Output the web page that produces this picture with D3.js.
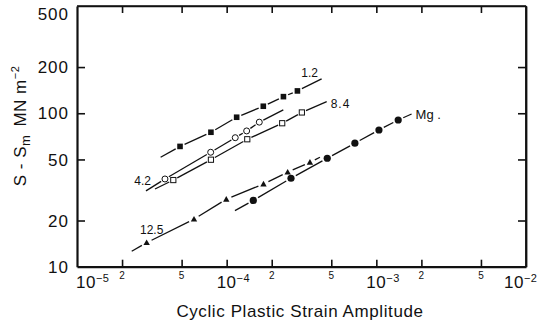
<!DOCTYPE html>
<html><head><meta charset="utf-8">
<script src="https://cdn.jsdelivr.net/npm/d3@7"></script>
<style>
html,body{margin:0;padding:0;background:#fff;}
svg{display:block;}
text{font-family:"Liberation Sans",Arial,sans-serif;fill:#111;}
</style></head>
<body>
<svg id="chart" width="544" height="323"></svg>
<script>
// ---- data ----
const xTickMajor = [1e-5, 1e-4, 1e-3, 1e-2];
const xTickMajorExp = ["-5", "-4", "-3", "-2"];
const xTickMinor = [2e-5, 5e-5, 2e-4, 5e-4, 2e-3, 5e-3];
const xTickMinorLabels = ["2", "5", "2", "5", "2", "5"];
const yTicks = [10, 20, 50, 100, 200, 500];
const yTickLabels = ["10", "20", "50", "100", "200", "500"];

// series: strain amplitude (x) and S - Sm (y)
const s12x = [4.88e-5, 7.85e-5, 1.166e-4, 1.757e-4, 2.395e-4, 2.97e-4];
const s12y = [60.8, 75.2, 94.2, 111.1, 128.3, 139.8];
const s12line = [[3.62e-5, 51.7], [4.31e-4, 167.4]];

const s42x = [3.87e-5, 7.82e-5, 1.141e-4, 1.36e-4, 1.652e-4];
const s42y = [37.3, 55.7, 69.3, 76.7, 87.5];
const s42line = [[2.89e-5, 31.2], [2.39e-4, 105.1]];

const s84x = [4.40e-5, 7.85e-5, 1.373e-4, 2.35e-4, 3.18e-4];
const s84y = [36.7, 49.8, 67.7, 86.1, 101.2];
const s84line = [[3.32e-5, 32.1], [4.66e-4, 119.0]];

const s125x = [2.92e-5, 6.05e-5, 9.94e-5, 1.762e-4, 2.556e-4, 3.60e-4];
const s125y = [14.34, 20.4, 27.5, 34.6, 41.3, 47.9];
const s125line = [[2.32e-5, 12.6], [4.20e-4, 51.7]];

const sMgx = [1.506e-4, 2.69e-4, 4.70e-4, 7.19e-4, 1.041e-3, 1.40e-3];
const sMgy = [27.05, 37.7, 50.9, 63.8, 77.8, 90.4];
const sMgline = [[1.136e-4, 23.2], [1.72e-3, 98.9]];

const seriesLabels = ["1.2", "4.2", "8.4", "12.5", "Mg ."];

// ---- layout ----
const svg = d3.select("#chart");
const L = 77, R = 526, T = 6, B = 266.7;
const x = d3.scaleLog().domain([1e-5, 1e-2]).range([L, R]);
const y = d3.scaleLog().domain([10, 500]).range([B, T]);

// frame
svg.append("line").attr("x1", L).attr("x2", R).attr("y1", T).attr("y2", T).attr("stroke", "#111").attr("stroke-width", 1.6);
svg.append("line").attr("x1", R).attr("x2", R).attr("y1", T).attr("y2", B).attr("stroke", "#111").attr("stroke-width", 1.8);

// axes with inward ticks
const allX = xTickMinor.concat(xTickMajor.slice(1, 3));
const axB = d3.axisBottom(x).tickValues(allX).tickSizeInner(-7).tickSizeOuter(0).tickFormat("");
const axT = d3.axisTop(x).tickValues(allX).tickSizeInner(-7).tickSizeOuter(0).tickFormat("");
const axL = d3.axisLeft(y).tickValues([20, 50, 100, 200]).tickSizeInner(-8).tickSizeOuter(0).tickFormat("");
const axR = d3.axisRight(y).tickValues([20, 50, 100, 200]).tickSizeInner(-8).tickSizeOuter(0).tickFormat("");
function styleAxis(g, w) {
  g.selectAll("path").attr("stroke", "#111").attr("stroke-width", w);
  g.selectAll("line").attr("stroke", "#111").attr("stroke-width", 1.6);
}
svg.append("g").attr("transform", `translate(0,${B})`).call(axB).call(g => styleAxis(g, 2.2));
svg.append("g").attr("transform", `translate(0,${T})`).call(axT).call(g => styleAxis(g, 1.6));
svg.append("g").attr("transform", `translate(${L},0)`).call(axL).call(g => styleAxis(g, 2.2));
svg.append("g").attr("transform", `translate(${R},0)`).call(axR).call(g => styleAxis(g, 1.8));

// y tick labels
yTicks.forEach((v, i) => {
  const yy = v === 500 ? y(v) + 8 : y(v);
  svg.append("text").attr("x", 69).attr("y", yy).attr("dy", "0.36em")
    .attr("text-anchor", "end").attr("font-size", 17).attr("letter-spacing", 1)
    .text(yTickLabels[i]);
});

// x major labels
const majorShift = [9, 0, 0, -12];
xTickMajor.forEach((v, i) => {
  const t = svg.append("text").attr("x", x(v) + majorShift[i] - 10).attr("y", 288)
    .attr("font-size", 17).attr("letter-spacing", 0.5);
  t.append("tspan").text("10");
  t.append("tspan").attr("dy", -6).attr("font-size", 11).text("\u2212" + xTickMajorExp[i].slice(1));
});
// x minor labels
xTickMinor.forEach((v, i) => {
  svg.append("text").attr("x", x(v)).attr("y", 279).attr("text-anchor", "middle")
    .attr("font-size", 10).text(xTickMinorLabels[i]);
});

// axis titles
svg.append("text").attr("x", 300).attr("y", 317).attr("text-anchor", "middle")
  .attr("font-size", 17).attr("letter-spacing", 0.6).text("Cyclic Plastic Strain Amplitude");
const yt = svg.append("text").attr("transform", "translate(26,126) rotate(-90)")
  .attr("text-anchor", "middle").attr("font-size", 17).attr("letter-spacing", 0.5);
yt.append("tspan").text("S - S");
yt.append("tspan").attr("dy", 4).attr("font-size", 13).text("m");
yt.append("tspan").attr("dy", -4).attr("dx", 8).text("MN m");
yt.append("tspan").attr("dy", -7).attr("font-size", 11).text("\u22122");

// ---- series drawing ----
function drawSeries(xs, ys, line, marker, gap) {
  const pts = [[x(line[0][0]), y(line[0][1])]]
    .concat(xs.map((v, i) => [x(v), y(ys[i])]))
    .concat([[x(line[1][0]), y(line[1][1])]]);
  const g = svg.append("g");
  for (let i = 0; i < pts.length - 1; i++) {
    const [x1, y1] = pts[i], [x2, y2] = pts[i + 1];
    const d = Math.hypot(x2 - x1, y2 - y1);
    const g1 = i === 0 ? 0 : gap, g2 = i === pts.length - 2 ? 0 : gap;
    if (d <= g1 + g2) continue;
    const ux = (x2 - x1) / d, uy = (y2 - y1) / d;
    g.append("line")
      .attr("x1", x1 + ux * g1).attr("y1", y1 + uy * g1)
      .attr("x2", x2 - ux * g2).attr("y2", y2 - uy * g2)
      .attr("stroke", "#111").attr("stroke-width", 1.3);
  }
  xs.forEach((v, i) => {
    const cx = x(v), cy = y(ys[i]);
    if (marker === "fsq") g.append("rect").attr("x", cx - 2.8).attr("y", cy - 2.8).attr("width", 5.6).attr("height", 5.6).attr("fill", "#111");
    else if (marker === "osq") g.append("rect").attr("x", cx - 2.6).attr("y", cy - 2.6).attr("width", 5.2).attr("height", 5.2).attr("fill", "#fff").attr("stroke", "#111").attr("stroke-width", 1);
    else if (marker === "oci") g.append("circle").attr("cx", cx).attr("cy", cy).attr("r", 3).attr("fill", "#fff").attr("stroke", "#111").attr("stroke-width", 1);
    else if (marker === "ftri") g.append("path").attr("d", `M${cx},${cy - 3.3}L${cx + 3.2},${cy + 2.4}L${cx - 3.2},${cy + 2.4}Z`).attr("fill", "#111");
    else if (marker === "fci") g.append("circle").attr("cx", cx).attr("cy", cy).attr("r", 3.6).attr("fill", "#111");
  });
}
drawSeries(s12x, s12y, s12line, "fsq", 5);
drawSeries(s42x, s42y, s42line, "oci", 4.5);
drawSeries(s84x, s84y, s84line, "osq", 4.5);
drawSeries(s125x, s125y, s125line, "ftri", 5.5);
drawSeries(sMgx, sMgy, sMgline, "fci", 5.5);

// series labels
svg.append("text").attr("x", x(s12line[1][0]) - 12).attr("y", y(s12line[1][1]) - 2)
  .attr("text-anchor", "middle").attr("font-size", 12).text(seriesLabels[0]);
svg.append("text").attr("x", x(s42line[0][0]) + 5).attr("y", y(s42line[0][1]) - 6)
  .attr("text-anchor", "end").attr("font-size", 12).text(seriesLabels[1]);
svg.append("text").attr("x", x(s84line[1][0]) + 4).attr("y", y(s84line[1][1]) + 6)
  .attr("font-size", 12).attr("letter-spacing", 1).text(seriesLabels[2]);
svg.append("text").attr("x", x(s125line[0][0]) + 20).attr("y", y(s125line[0][1]) - 17)
  .attr("text-anchor", "middle").attr("font-size", 12).text(seriesLabels[3]);
svg.append("text").attr("x", x(sMgline[1][0]) + 4).attr("y", y(sMgline[1][1]) + 5)
  .attr("font-family", "Liberation Serif, serif").attr("font-size", 13).text(seriesLabels[4]);
</script>
</body></html>
